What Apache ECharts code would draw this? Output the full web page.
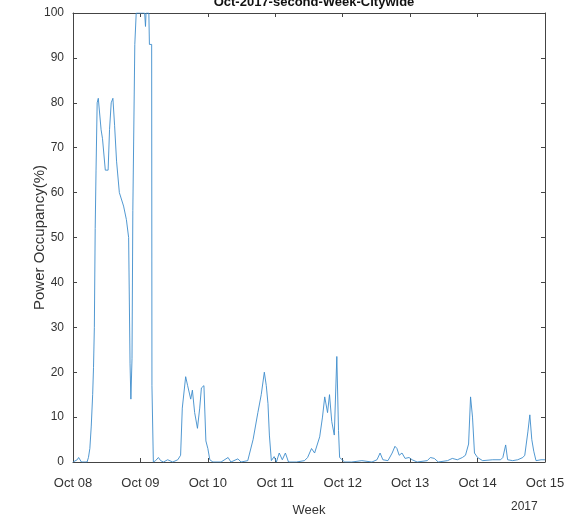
<!DOCTYPE html>
<html>
<head>
<meta charset="utf-8">
<script src="https://cdn.jsdelivr.net/npm/echarts@6/dist/echarts.min.js"></script>
<style>
  html, body { margin: 0; padding: 0; background: #fff; }
  #chart { width: 572px; height: 517px; }
</style>
</head>
<body>
<div id="chart"></div>
<script>
// Hours since Oct 08 00:00 for each sample
const hours = [
  0, 1.5, 2, 3, 5, 5.5, 6, 6.5, 7, 7.3, 7.6, 7.9, 8.2, 8.6, 9, 9.5, 10, 10.5, 11.5, 12.5,
  13, 13.6, 14.2, 14.8, 15.5, 16.5, 18, 19, 19.8, 20.3, 20.6, 21, 21.3, 22, 22.5, 25.5,
  25.8, 26, 27, 27.2, 28, 28.1, 28.5, 28.6,
  29.4, 30.4, 31.2, 32.2, 33.7, 35.5, 37.3, 38.3, 38.9, 40.1, 40.8, 41.9, 42.5, 43.3, 44.3,
  45.1, 45.7, 46.6, 47.3, 48, 48.7, 49.8, 52.7, 55.2, 56.2, 58.7, 59.8, 62.2, 64.1, 65.8,
  67, 68.1, 68.8, 69.4, 69.9, 70.6, 71.6, 72.4, 73.4, 74.5, 75.6, 76.7, 79.5, 82.4, 83.5,
  84.9, 86, 87.8, 88.8, 89.6, 90.6, 91.3, 92.1, 93, 93.9, 94.5, 94.9, 96.7, 99.2, 102.8,
  106.4, 108.2, 109.3, 110.3, 112.1, 113.6, 114.6, 115.3, 116.1, 117.1, 118.2, 119.6,
  120.7, 122.5, 126.1, 127.2, 128.6, 130, 133.3, 135, 136.8, 138.6, 139.7, 140.8, 141.5,
  142.2, 142.9, 144, 145.8, 149.4, 152.2, 153, 154, 154.7, 156.5, 158.3, 160.1, 160.8,
  161.9, 162.6, 163.3, 164, 164.8, 166.6, 168
];

// Power occupancy (%) at each sample
const occupancy = [
  0, 0.5, 1, 0, 0, 1, 3, 8, 15, 21, 30, 52, 65, 80, 81, 81, 74, 72, 65, 65,
  74, 80, 81, 75, 67, 60, 57, 54, 50, 22, 14, 23, 56, 93, 100, 100,
  97, 100, 100, 93, 93, 17, 17, 0,
  0.3, 1, 0.3, 0, 0.5, 0, 0.5, 1.5, 12, 19, 17, 14, 16, 11, 7.5,
  12, 16.5, 17, 4.7, 3, 0.5, 0, 0, 1, 0, 0.7, 0, 0.3, 5, 11,
  15, 20, 17, 13, 6, 0.3, 1.2, 0, 2, 0.5, 2, 0, 0, 0.3, 1,
  3, 2, 5.6, 10, 14.5, 11, 15, 9, 6, 23.5, 7, 1, 0, 0, 0.3,
  0, 0.5, 2, 0.5, 0.3, 2, 3.5, 3, 1.5, 2, 0.8, 1,
  0.5, 0, 0.3, 1, 0.8, 0, 0.3, 0.8, 0.5, 1, 1.5, 4, 14.5,
  10, 2, 1, 0.3, 0.5, 0.5, 1, 3.8, 0.5, 0.3, 0.5, 1, 1.5,
  6.7, 10.5, 5, 2.4, 0.3, 0.5, 0.5
];

// Day tick labels (one per 24 h)
const dayLabels = ['Oct 08', 'Oct 09', 'Oct 10', 'Oct 11', 'Oct 12', 'Oct 13', 'Oct 14', 'Oct 15'];

const FONT = '"Liberation Sans", Arial, Helvetica, sans-serif';
const AXIS_COLOR = '#444';
const TEXT_COLOR = '#333';

const chart = echarts.init(document.getElementById('chart'), null, { renderer: 'canvas' });

const boxAxisX = (pos, showLabels) => ({
  type: 'value',
  position: pos,
  min: 0,
  max: 168,
  interval: 24,
  axisLine: { show: true, onZero: false, lineStyle: { color: AXIS_COLOR, width: 1 } },
  axisTick: { show: true, inside: true, length: 4, lineStyle: { color: AXIS_COLOR } },
  splitLine: { show: false },
  axisLabel: showLabels ? {
    show: true,
    margin: 15,
    fontFamily: FONT,
    fontSize: 13,
    color: TEXT_COLOR,
    formatter: v => dayLabels[Math.round(v / 24)] || ''
  } : { show: false }
});

const boxAxisY = (pos, showLabels) => ({
  type: 'value',
  position: pos,
  min: 0,
  max: 100,
  interval: 10,
  axisLine: { show: true, onZero: false, lineStyle: { color: AXIS_COLOR, width: 1 } },
  axisTick: { show: true, inside: true, length: 4, lineStyle: { color: AXIS_COLOR } },
  splitLine: { show: false },
  axisLabel: showLabels ? {
    show: true,
    margin: 9,
    fontFamily: FONT,
    fontSize: 12,
    color: TEXT_COLOR
  } : { show: false }
});

const xBottom = boxAxisX('bottom', true);
xBottom.name = 'Week';
xBottom.nameLocation = 'middle';
xBottom.nameGap = 42;
xBottom.nameMoveOverlap = false;
xBottom.nameTextStyle = { fontFamily: FONT, fontSize: 13, color: TEXT_COLOR };

const yLeft = boxAxisY('left', true);
yLeft.name = 'Power Occupancy(%)';
yLeft.nameLocation = 'middle';
yLeft.nameGap = 26;
yLeft.nameMoveOverlap = false;
yLeft.nameTextStyle = { fontFamily: FONT, fontSize: 15, color: TEXT_COLOR };

chart.setOption({
  animation: false,
  backgroundColor: '#fff',
  title: {
    text: 'Oct-2017-second-Week-Citywide',
    left: 309,
    top: -9,
    textAlign: 'center',
    textStyle: { fontFamily: FONT, fontSize: 13, fontWeight: 'bold', color: '#111' }
  },
  grid: { left: 73, right: 27, top: 13, bottom: 55, containLabel: false, outerBoundsMode: 'none' },
  xAxis: [xBottom, boxAxisX('top', false)],
  yAxis: [yLeft, boxAxisY('right', false)],
  graphic: [{
    type: 'text',
    left: 511,
    top: 501,
    style: { text: '2017', font: '12px ' + FONT, fill: TEXT_COLOR }
  }],
  series: [{
    type: 'line',
    xAxisIndex: 0,
    yAxisIndex: 0,
    showSymbol: false,
    clip: true,
    data: hours.map((h, i) => [h, occupancy[i]]),
    lineStyle: { color: '#3d8ccc', width: 0.9 }
  }]
});
</script>
</body>
</html>
